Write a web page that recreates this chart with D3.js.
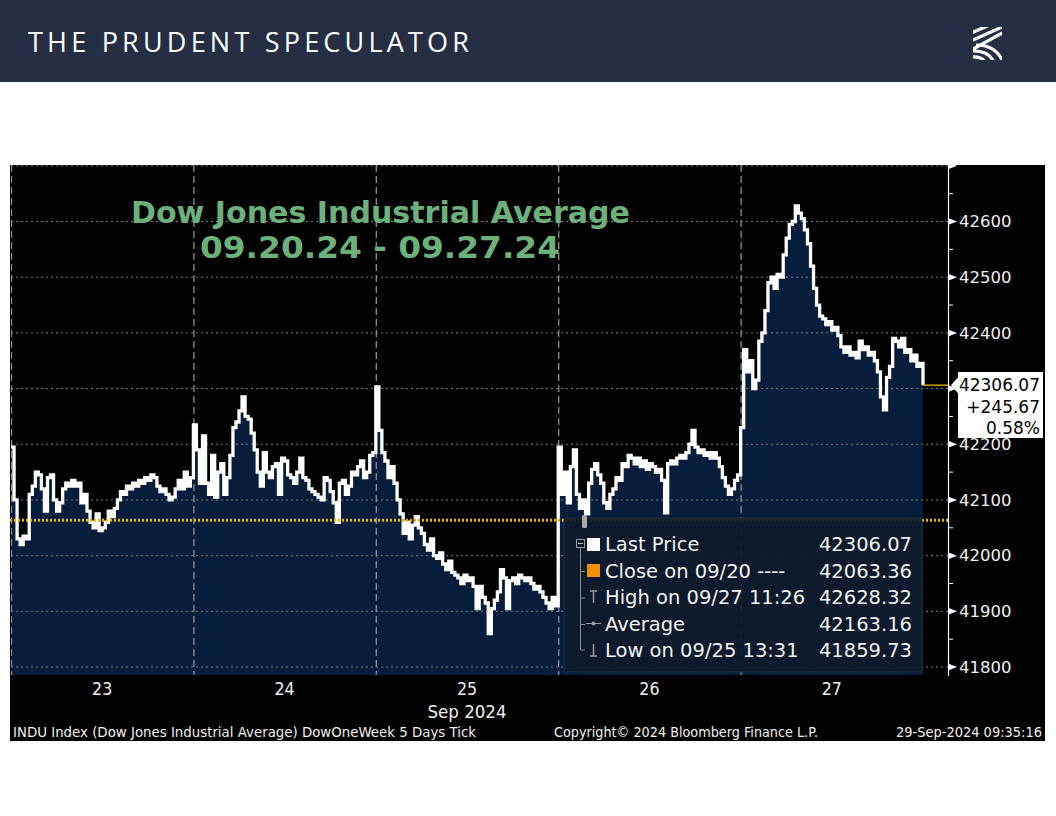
<!DOCTYPE html>
<html><head><meta charset="utf-8">
<script src="https://cdn.jsdelivr.net/npm/d3@7"></script>
<style>html,body{margin:0;padding:0;background:#fff;} svg{display:block}</style>
</head><body><svg id="c" width="1056" height="816"></svg>
<script>
// ---------- DATA ----------
const dayLabels = ["23","24","25","26","27"];
const monthLabel = "Sep 2024";
const yTicks = [41800,41900,42000,42100,42200,42300,42400,42500,42600,42700];
// 42300 is hidden behind the last-price tag in the original, 42700 is unlabeled
const yTickLabels = ["41800","41900","42000","42100","42200","","42400","42500","42600",""];
// intraday ticks, sampled every ~6.5 minutes of each session
const day23 = [42195,42100,42030,42020,42035,42030,42110,42125,42150,42145,
  42120,42080,42140,42145,42100,42080,42095,42120,42130,42125,
  42135,42125,42130,42095,42110,42080,42060,42050,42075,42045,
  42050,42060,42080,42070,42085,42100,42115,42110,42125,42120,
  42130,42125,42135,42130,42140,42135,42145,42140,42125,42115,
  42120,42110,42100,42105,42120,42135,42120,42150,42125,42140];
const day24 = [42235,42190,42130,42215,42130,42110,42180,42105,42150,42165,
  42110,42140,42180,42230,42240,42260,42285,42250,42245,42220,
  42190,42150,42125,42185,42150,42140,42160,42165,42110,42175,
  42170,42145,42140,42130,42150,42175,42140,42135,42120,42115,
  42110,42105,42100,42140,42135,42115,42095,42060,42130,42135,
  42110,42125,42150,42145,42160,42170,42140,42150,42180,42185];
const day25 = [42303,42225,42185,42170,42140,42160,42130,42100,42075,42040,
  42060,42030,42055,42070,42050,42040,42020,42010,42030,42000,
  41995,42005,41985,41975,41990,41970,41965,41960,41950,41965,
  41955,41960,41945,41905,41945,41925,41915,41860,41905,41920,
  41935,41975,41960,41905,41955,41960,41950,41965,41960,41955,
  41960,41950,41940,41945,41935,41925,41915,41905,41925,41910];
const day26 = [42195,42110,42150,42095,42160,42190,42110,42085,42100,42075,
  42130,42155,42165,42145,42130,42095,42085,42110,42120,42140,
  42135,42165,42160,42180,42175,42165,42175,42160,42170,42155,
  42165,42160,42150,42155,42135,42077,42165,42170,42165,42175,
  42180,42175,42185,42200,42225,42195,42185,42190,42180,42185,
  42175,42185,42175,42160,42140,42125,42110,42120,42135,42145];
const day27 = [42230,42370,42330,42350,42300,42315,42385,42400,42440,42490,
  42500,42480,42505,42500,42540,42570,42595,42600,42628,42615,
  42605,42585,42560,42520,42480,42450,42430,42425,42415,42420,
  42405,42410,42395,42375,42365,42375,42360,42365,42355,42385,
  42370,42375,42360,42365,42350,42330,42285,42262,42320,42340,
  42390,42385,42375,42390,42365,42370,42350,42360,42340,42345,
  42306.07];
const samplesPerDay = 60;
const prevClose = 42063.36;
const lastPrice = 42306.07;
const lastBox = ["42306.07","+245.67","0.58%"];
const legendLabels = ["Last Price","Close on 09/20 ---- ","High on 09/27 11:26","Average","Low on 09/25 13:31"];
const legendValues = ["42306.07","42063.36","42628.32","42163.16","41859.73"];
const titleLines = ["Dow Jones Industrial Average","09.20.24 - 09.27.24"];
const footer = ["INDU Index (Dow Jones Industrial Average) DowOneWeek 5 Days  Tick","Copyright\u00A9 2024 Bloomberg Finance L.P.","29-Sep-2024 09:35:16"];
const brand = "THE PRUDENT SPECULATOR";

// ---------- BUILD ----------
const series = [day23,day24,day25,day26,day27].flatMap((arr,d)=>arr.map((v,i)=>({t:d+i/samplesPerDay, v})));
const svg = d3.select("#c");
const DV = "'DejaVu Sans', Verdana, sans-serif";

// header
svg.append("rect").attr("x",0).attr("y",0).attr("width",1056).attr("height",82).attr("fill","#252e43");
svg.append("text").attr("x",28).attr("y",52).text(brand)
  .attr("fill","#fff").attr("font-family","'Open Sans', sans-serif").attr("font-size",27)
  .attr("textLength",441).attr("lengthAdjust","spacing");
// logo
const defs = svg.append("defs");
defs.append("clipPath").attr("id","logoclip").append("rect").attr("x",973).attr("y",27).attr("width",29).attr("height",33);
const logo = svg.append("g").attr("clip-path","url(#logoclip)").attr("stroke","#fff").attr("stroke-width",3.2).attr("fill","none");
logo.append("path").attr("d","M971,33 L992,24");
logo.append("path").attr("d","M971,41 L1002,27");
logo.append("path").attr("d","M973,49 L1006,31");
logo.append("path").attr("d","M976,45 Q996,45 1003,62");
logo.append("path").attr("d","M971,51 Q988,50 994,62");
logo.append("path").attr("d","M971,57 Q982,56 985,62");

// chart background
svg.append("rect").attr("x",10).attr("y",165).attr("width",1035).attr("height",576).attr("fill","#000");

const x = d3.scaleLinear().domain([0,5.137]).range([11,948]);
const y = d3.scaleLinear().domain([41785,42700]).range([675.4,165.8]);
const plotBottom = 675;

defs.append("clipPath").attr("id","plotclip").append("rect").attr("x",11).attr("y",164).attr("width",937).attr("height",plotBottom-164);
const plot = svg.append("g").attr("clip-path","url(#plotclip)");

// area
plot.append("path").datum(series)
  .attr("d", d3.area().x(d=>x(d.t)).y0(plotBottom).y1(d=>y(d.v)).curve(d3.curveStepAfter))
  .attr("fill","#061d3b");

// horizontal gridlines
plot.selectAll("line.hg").data(yTicks).join("line").attr("class","hg")
  .attr("x1",11).attr("x2",948).attr("y1",d=>y(d)).attr("y2",d=>y(d))
  .attr("stroke","#7d7d7d").attr("stroke-width",1).attr("stroke-dasharray","2,3");
// vertical day dividers
plot.selectAll("line.vg").data(d3.range(dayLabels.length)).join("line").attr("class","vg")
  .attr("x1",d=>x(d)+0.5).attr("x2",d=>x(d)+0.5).attr("y1",165).attr("y2",plotBottom)
  .attr("stroke","#8f8f8f").attr("stroke-width",1.3).attr("stroke-dasharray","7,4");

// previous close dotted line
svg.append("line").attr("x1",10).attr("x2",948).attr("y1",y(prevClose)).attr("y2",y(prevClose))
  .attr("stroke","#e8b900").attr("stroke-width",3).attr("stroke-dasharray","2,2");

// price line
plot.append("path").datum(series)
  .attr("d", d3.line().x(d=>x(d.t)).y(d=>y(d.v)).curve(d3.curveStepAfter))
  .attr("fill","none").attr("stroke","#fff").attr("stroke-width",3.3).attr("stroke-linejoin","miter");

// title
const tt = svg.append("g").attr("font-family","'DejaVu Sans', Verdana, sans-serif").attr("font-weight","bold")
  .attr("fill","#6cb07a").attr("font-size",30);
tt.append("text").attr("x",131).attr("y",223).text(titleLines[0]).attr("textLength",499).attr("lengthAdjust","spacingAndGlyphs");
tt.append("text").attr("x",200).attr("y",258).text(titleLines[1]).attr("textLength",360).attr("lengthAdjust","spacingAndGlyphs");

// legend
const lg = svg.append("g");
lg.append("rect").attr("x",564).attr("y",518).attr("width",358).attr("height",154)
  .attr("fill","#0e1a2b").attr("fill-opacity",0.93).attr("stroke","#27323f").attr("stroke-width",1);
lg.append("rect").attr("x",582).attr("y",515).attr("width",5).attr("height",13).attr("rx",1.5).attr("fill","#a8a8a8");
const rowY = i => 551 + i*26.5;
lg.append("line").attr("x1",580.5).attr("x2",580.5).attr("y1",548).attr("y2",650).attr("stroke","#8a8a8a").attr("stroke-width",1);
lg.append("line").attr("x1",580.5).attr("x2",585).attr("y1",650).attr("y2",650).attr("stroke","#8a8a8a");
lg.append("rect").attr("x",576.5).attr("y",539.5).attr("width",8).attr("height",8).attr("fill","#0e1a2b").attr("stroke","#9a9a9a");
lg.append("line").attr("x1",578).attr("x2",583).attr("y1",543.5).attr("y2",543.5).attr("stroke","#bbb");
[1,2,3].forEach(i=>lg.append("line").attr("x1",580.5).attr("x2",585).attr("y1",rowY(i)-6).attr("y2",rowY(i)-6).attr("stroke","#8a8a8a"));
lg.append("rect").attr("x",587).attr("y",538).attr("width",13).attr("height",13).attr("fill","#fff");
lg.append("rect").attr("x",587).attr("y",564).attr("width",13).attr("height",13).attr("fill","#f39200");
// high icon
lg.append("path").attr("d",`M590,${rowY(2)-13} L597,${rowY(2)-13} M593.5,${rowY(2)-13} L593.5,${rowY(2)-1}`).attr("stroke","#9a9a9a").attr("stroke-width",1.5);
// average icon
lg.append("line").attr("x1",586).attr("x2",601).attr("y1",rowY(3)-7).attr("y2",rowY(3)-7).attr("stroke","#9a9a9a");
lg.append("circle").attr("cx",593.5).attr("cy",rowY(3)-7).attr("r",2).attr("fill","#9a9a9a");
// low icon
lg.append("path").attr("d",`M593.5,${rowY(4)-13} L593.5,${rowY(4)-1} M590,${rowY(4)-1} L597,${rowY(4)-1}`).attr("stroke","#9a9a9a").attr("stroke-width",1.5);
lg.selectAll("text.ll").data(legendLabels).join("text").attr("class","ll")
  .attr("x",605).attr("y",(d,i)=>rowY(i)).text(d=>d)
  .attr("fill","#f2f2f2").attr("font-family",DV).attr("font-size",19.5);
lg.selectAll("text.lv").data(legendValues).join("text").attr("class","lv")
  .attr("x",912).attr("y",(d,i)=>rowY(i)).text(d=>d).attr("text-anchor","end")
  .attr("fill","#f2f2f2").attr("font-family",DV).attr("font-size",19.5);

// right axis
const ax = svg.append("g").attr("transform","translate(948,0)")
  .call(d3.axisRight(y).tickValues(yTicks).tickSize(0).tickPadding(11).tickFormat((d,i)=>yTickLabels[i]));
ax.select(".domain").remove();
ax.selectAll("text").attr("fill","#f0f0f0").attr("font-family",DV).attr("font-size",16.5);
svg.append("line").attr("x1",948.5).attr("x2",948.5).attr("y1",165).attr("y2",676).attr("stroke","#fff").attr("stroke-width",1.2);
svg.selectAll("path.maj").data(yTicks).join("path").attr("class","maj")
  .attr("d",d=>`M948,${y(d)-3.5} L957,${y(d)} L948,${y(d)+3.5} Z`).attr("fill","#fff");
const minors = yTicks.slice(0,-1).map(v=>v+50);
svg.selectAll("line.mn").data(minors).join("line").attr("class","mn")
  .attr("x1",948).attr("x2",953).attr("y1",d=>y(d)).attr("y2",d=>y(d)).attr("stroke","#fff").attr("stroke-width",1);

// last price marker + box
const ly = y(lastPrice);
svg.append("line").attr("x1",x(5)).attr("x2",948).attr("y1",ly).attr("y2",ly).attr("stroke","#c8a400").attr("stroke-width",1.5);
svg.append("path").attr("d",`M951,${ly} L958,${ly-8} L958,372 L1043,372 L1043,438 L958,438 L958,${ly+8} Z`).attr("fill","#fff");
svg.selectAll("text.lb").data(lastBox).join("text").attr("class","lb")
  .attr("x",1040).attr("y",(d,i)=>391+i*21.5).text(d=>d).attr("text-anchor","end")
  .attr("fill","#000").attr("font-family",DV).attr("font-size",17);

// bottom axis labels
svg.selectAll("text.dl").data(dayLabels).join("text").attr("class","dl")
  .attr("transform",(d,i)=>`translate(${x(i+0.5)},695) scale(0.86,1)`).attr("text-anchor","middle")
  .text(d=>d).attr("fill","#f0f0f0").attr("font-family",DV).attr("font-size",18.5);
svg.append("text").attr("transform",`translate(${x(2.5)},718) scale(0.9,1)`).attr("text-anchor","middle")
  .text(monthLabel).attr("fill","#f0f0f0").attr("font-family",DV).attr("font-size",18.5);

// footer
const fx = [[13,463],[554,264],[896,146]];
svg.selectAll("text.ft").data(footer).join("text").attr("class","ft")
  .attr("x",(d,i)=>fx[i][0]).attr("y",737).text(d=>d)
  .attr("textLength",(d,i)=>fx[i][1]).attr("lengthAdjust","spacingAndGlyphs")
  .attr("fill","#f0f0f0").attr("font-family",DV).attr("font-size",14);
</script></body></html>
